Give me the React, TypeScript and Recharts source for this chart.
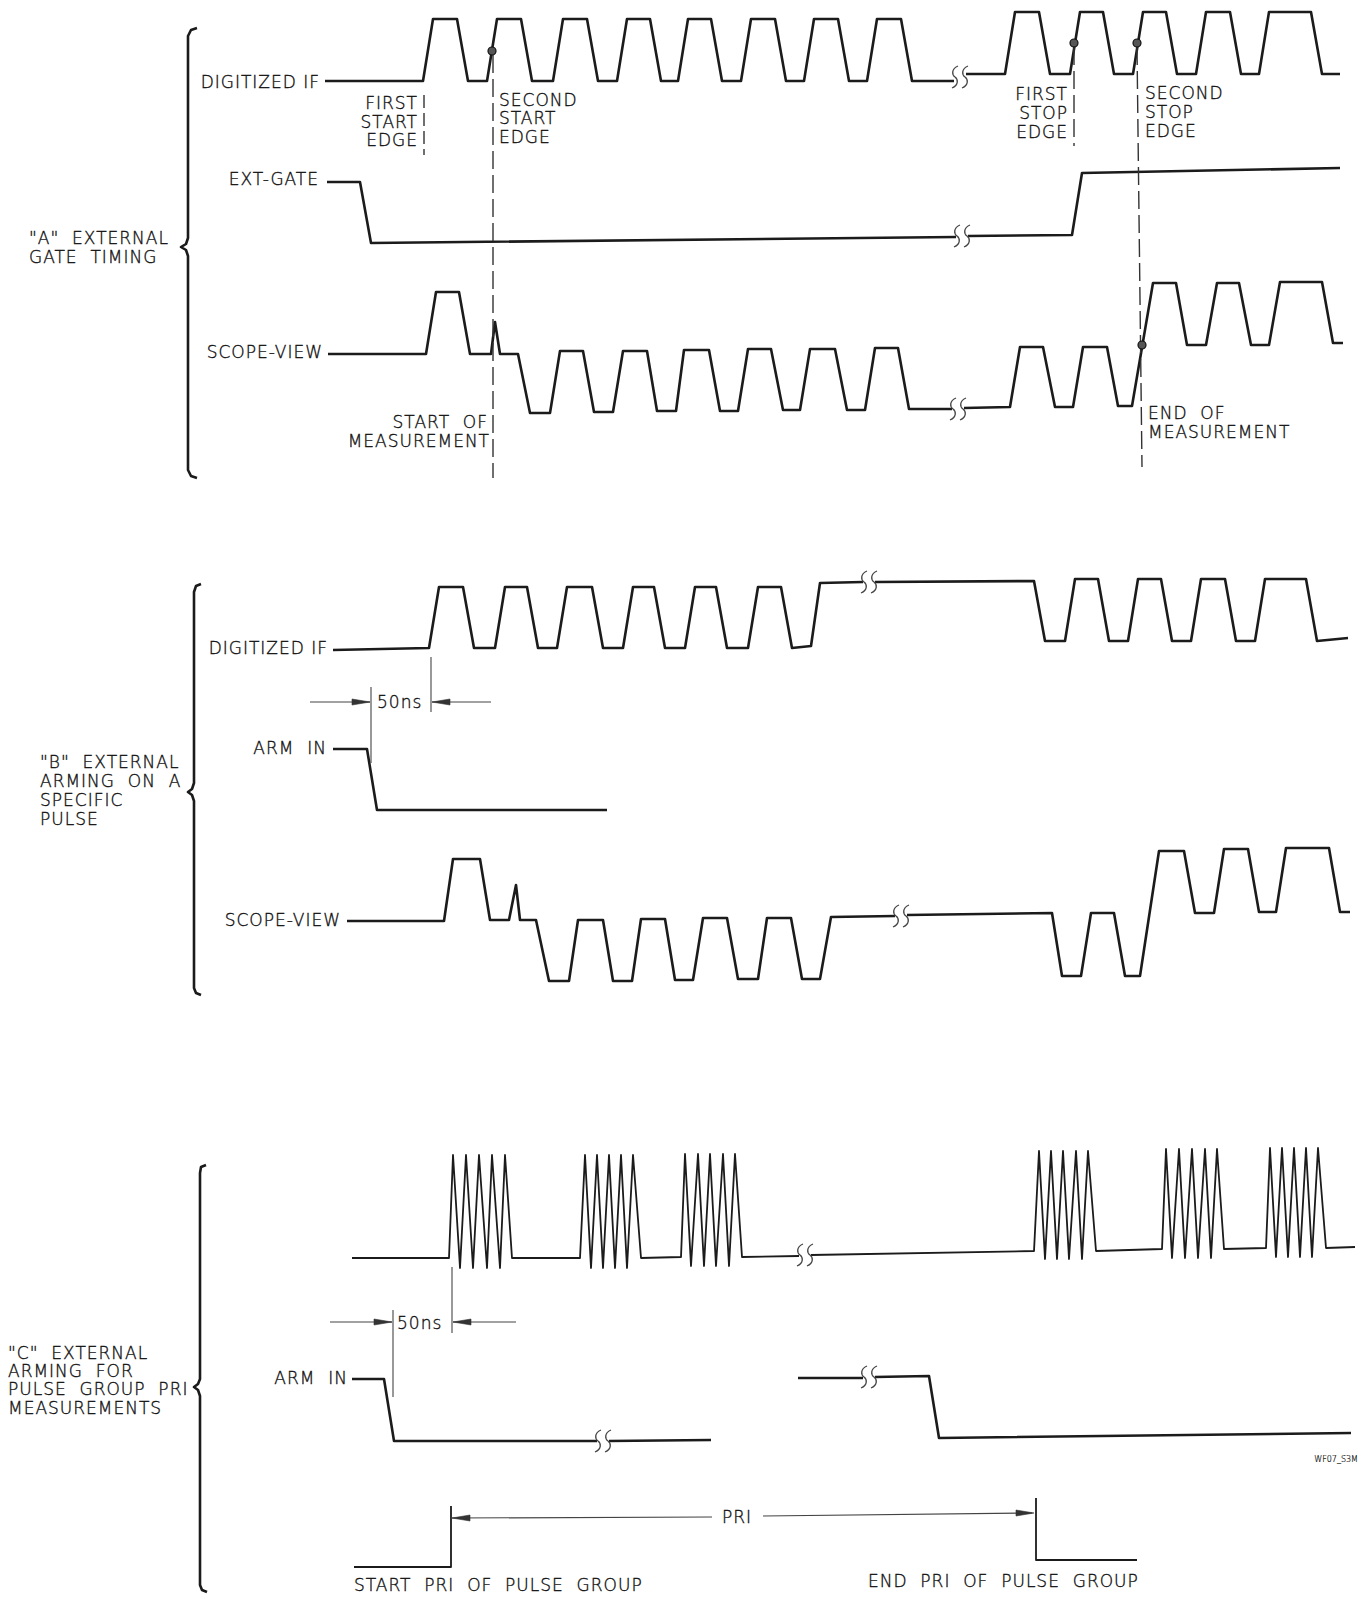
import React from 'react';
import { ComposedChart, Line, Scatter, XAxis, YAxis } from 'recharts';

const W = 1367;
const H = 1599;

type V = (number | null)[];
type Pt = { x: number; y: number | null };

// ---------------- Panel A : external gate timing ----------------
const aDigPulsesLeft = [[423, 468], [487, 532], [553, 598], [617, 661], [678, 722], [741, 786], [804, 849], [867, 912]];
const aDigPulsesRight = [[1005, 1050], [1070, 1114], [1133, 1177], [1196, 1241], [1259, 1322]];
const aDigLevelsLeft = [81, 19];
const aDigLevelsRight = [74, 12];

const aExtGate: V[] = [[327, 182], [360, 182], [371, 243], [956, 237], [957, null], [968, 236], [1072, 235], [1082, 173], [1340, 168]];

const aScope: V[] = [
  [328, 354], [426, 354], [436, 292], [459, 292], [470, 354], [491, 354], [495, 322], [500, 354], [518, 354],
  [530, 413], [550, 413], [560, 351], [583, 351], [594, 412], [613, 412], [623, 351], [647, 351], [657, 411],
  [676, 411], [684, 350], [709, 350], [720, 411], [738, 411], [748, 349], [771, 349], [783, 410], [800, 410],
  [810, 349], [835, 349], [847, 410], [865, 410], [875, 348], [898, 348], [909, 409], [952, 409], [953, null],
  [964, 408], [1010, 407], [1020, 347], [1043, 347], [1055, 407], [1073, 407], [1083, 347], [1107, 347],
  [1118, 406], [1132, 406], [1153, 283], [1176, 283], [1187, 345], [1206, 345], [1217, 283], [1239, 283],
  [1251, 345], [1269, 345], [1280, 282], [1322, 282], [1333, 343], [1343, 343],
];

const aMarkers: V[][] = [
  [[424, 95], [424, 155]],
  [[493, 55], [493, 478]],
  [[1074, 47], [1074, 146]],
  [[1137, 47], [1142, 467]],
];

const aEdgeDots = [
  { x: 492, y: 51 },
  { x: 1074, y: 43 },
  { x: 1137, y: 43 },
  { x: 1142, y: 345 },
];

// ---------------- Panel B : external arming on a specific pulse ----------------
const bDigPulsesLeft = [[429, 474], [495, 538], [557, 603], [623, 665], [685, 727], [748, 792]];
const bDigPulsesRight = [[1065, 1109], [1128, 1172], [1191, 1236], [1255, 1317]];
const bDigLevelsLeft = [648, 587];
const bDigLevelsRight = [641, 579];

const bArmIn: V[] = [[333, 749], [367, 749], [377, 810], [607, 810]];

const bScope: V[] = [
  [347, 921], [444, 921], [453, 859], [480, 859], [490, 920], [509, 920], [516, 885], [520, 920], [536, 920],
  [549, 981], [569, 981], [578, 920], [603, 920], [613, 981], [632, 981], [641, 919], [665, 919], [675, 980],
  [693, 980], [703, 918], [727, 918], [738, 979], [758, 979], [767, 918], [791, 918], [802, 979], [820, 979],
  [831, 917], [895, 916], [896, null], [907, 915], [1052, 913], [1062, 976], [1081, 976], [1091, 913],
  [1114, 913], [1125, 976], [1140, 976], [1159, 851], [1184, 851], [1195, 913], [1214, 913], [1224, 849],
  [1248, 849], [1259, 912], [1276, 912], [1286, 848], [1329, 848], [1340, 912], [1350, 912],
];

const b50nsLines: V[][] = [
  [[310, 702], [370, 702]],
  [[491, 702], [432, 702]],
  [[371, 687], [371, 763]],
  [[431, 657], [431, 712]],
];

// ---------------- Panel C : pulse group PRI ----------------
const cBursts = [
  { start: 449, end: 512, base: 1258, peak: 1155, valley: 1268, xs: [453, 460, 466, 473, 479, 487, 492, 500, 505] },
  { start: 580, end: 641, base: 1258, peak: 1155, valley: 1268, xs: [585, 591, 597, 603, 609, 615, 621, 627, 633] },
  { start: 681, end: 742, base: 1257, peak: 1154, valley: 1266, xs: [685, 691, 698, 704, 710, 716, 723, 729, 735] },
  { start: 1034, end: 1096, base: 1251, peak: 1151, valley: 1259, xs: [1039, 1045, 1051, 1057, 1063, 1069, 1076, 1082, 1088] },
  { start: 1162, end: 1224, base: 1249, peak: 1149, valley: 1258, xs: [1166, 1172, 1179, 1185, 1192, 1198, 1205, 1211, 1217] },
  { start: 1266, end: 1326, base: 1248, peak: 1148, valley: 1257, xs: [1270, 1276, 1282, 1288, 1294, 1300, 1306, 1312, 1318] },
];
const cPulseEnds: V[] = [[352, 1258], [799, 1256], [800, null], [811, 1255], [1355, 1247]];

const cArm1: V[] = [[352, 1379], [384, 1379], [394, 1441], [597, 1441], [598, null], [609, 1441], [711, 1440]];
const cArm2: V[] = [[798, 1378], [863, 1378], [864, null], [875, 1377], [929, 1376], [939, 1438], [1351, 1433]];

const c50nsLines: V[][] = [
  [[330, 1322], [392, 1322]],
  [[516, 1322], [453, 1322]],
  [[393, 1310], [393, 1397]],
  [[452, 1267], [452, 1333]],
];

const priStart: V[] = [[354, 1567], [451, 1567], [451, 1506]];
const priEnd: V[] = [[1036, 1498], [1036, 1560], [1137, 1560]];
const priArrowLines: V[][] = [
  [[451, 1518], [712, 1517]],
  [[763, 1516], [1032, 1513]],
];

const arrowHeads = [
  { x: 370, y: 702, dir: 1 },
  { x: 432, y: 702, dir: -1 },
  { x: 392, y: 1322, dir: 1 },
  { x: 453, y: 1322, dir: -1 },
  { x: 452, y: 1518, dir: -1 },
  { x: 1034, y: 1513, dir: 1 },
];

const breakMarks = [
  { x: 960, y: 77 },
  { x: 962, y: 236 },
  { x: 958, y: 409 },
  { x: 869, y: 582 },
  { x: 901, y: 916 },
  { x: 805, y: 1255 },
  { x: 603, y: 1441 },
  { x: 869, y: 1377 },
];

// ---------------- Braces ----------------
const braceA: V[] = [[197, 28], [191, 30], [188, 36], [188, 238], [186, 244], [181, 247], [186, 250], [188, 256], [188, 470], [191, 476], [197, 478]];
const braceB: V[] = [[201, 584], [196, 586], [194, 592], [194, 783], [192, 789], [188, 792], [192, 795], [194, 801], [194, 988], [196, 993], [201, 995]];
const braceC: V[] = [[206, 1165], [201, 1167], [200, 1173], [200, 1379], [198, 1384], [194, 1387], [198, 1390], [200, 1396], [200, 1585], [202, 1590], [207, 1592]];

// ---------------- Text ----------------
const labels = [
  { x: 320, y: 82, t: 'DIGITIZED IF', a: 'end' },
  { x: 319, y: 179, t: 'EXT-GATE', a: 'end' },
  { x: 323, y: 352, t: 'SCOPE-VIEW', a: 'end' },
  { x: 418, y: 103, t: 'FIRST', a: 'end' },
  { x: 418, y: 122, t: 'START', a: 'end' },
  { x: 418, y: 140, t: 'EDGE', a: 'end' },
  { x: 499, y: 100, t: 'SECOND', a: 'start' },
  { x: 499, y: 118, t: 'START', a: 'start' },
  { x: 499, y: 137, t: 'EDGE', a: 'start' },
  { x: 1068, y: 94, t: 'FIRST', a: 'end' },
  { x: 1068, y: 113, t: 'STOP', a: 'end' },
  { x: 1068, y: 132, t: 'EDGE', a: 'end' },
  { x: 1145, y: 93, t: 'SECOND', a: 'start' },
  { x: 1145, y: 112, t: 'STOP', a: 'start' },
  { x: 1145, y: 131, t: 'EDGE', a: 'start' },
  { x: 488, y: 422, t: 'START  OF', a: 'end' },
  { x: 490, y: 441, t: 'MEASUREMENT', a: 'end' },
  { x: 1148, y: 413, t: 'END  OF', a: 'start' },
  { x: 1148, y: 432, t: 'MEASUREMENT', a: 'start' },
  { x: 29, y: 238, t: '"A"  EXTERNAL', a: 'start' },
  { x: 29, y: 257, t: 'GATE  TIMING', a: 'start' },
  { x: 328, y: 648, t: 'DIGITIZED IF', a: 'end' },
  { x: 377, y: 702, t: '50ns', a: 'start' },
  { x: 327, y: 748, t: 'ARM  IN', a: 'end' },
  { x: 341, y: 920, t: 'SCOPE-VIEW', a: 'end' },
  { x: 40, y: 762, t: '"B"  EXTERNAL', a: 'start' },
  { x: 40, y: 781, t: 'ARMING  ON  A', a: 'start' },
  { x: 40, y: 800, t: 'SPECIFIC', a: 'start' },
  { x: 40, y: 819, t: 'PULSE', a: 'start' },
  { x: 8, y: 1353, t: '"C"  EXTERNAL', a: 'start' },
  { x: 8, y: 1371, t: 'ARMING  FOR', a: 'start' },
  { x: 8, y: 1389, t: 'PULSE  GROUP  PRI', a: 'start' },
  { x: 8, y: 1408, t: 'MEASUREMENTS', a: 'start' },
  { x: 397, y: 1323, t: '50ns', a: 'start' },
  { x: 348, y: 1378, t: 'ARM  IN', a: 'end' },
  { x: 737, y: 1517, t: 'PRI', a: 'middle' },
  { x: 354, y: 1585, t: 'START  PRI  OF  PULSE  GROUP', a: 'start' },
  { x: 868, y: 1581, t: 'END  PRI  OF  PULSE  GROUP', a: 'start' },
  { x: 1358, y: 1459, t: 'WF07_S3M', a: 'end', s: 8 },
];

// ---------------- builders ----------------
const toPts = (arr: V[]): Pt[] => arr.map(([x, y]) => ({ x: x as number, y }));
const trap = (pulses: number[][], lo: number, hi: number): V[] =>
  pulses.flatMap(([r, f]) => [[r, lo], [r + 10, hi], [f - 11, hi], [f, lo]]);
const burst = (b: (typeof cBursts)[number]): V[] => [
  [b.start, b.base],
  ...b.xs.map((x, i) => [x, i % 2 === 0 ? b.peak : b.valley]),
  [b.end, b.base],
];

const aDigIf: V[] = [
  [325, aDigLevelsLeft[0]],
  ...trap(aDigPulsesLeft, aDigLevelsLeft[0], aDigLevelsLeft[1]),
  [954, aDigLevelsLeft[0]], [955, null], [966, aDigLevelsRight[0]],
  ...trap(aDigPulsesRight, aDigLevelsRight[0], aDigLevelsRight[1]),
  [1340, aDigLevelsRight[0]],
];

const bDigIf: V[] = [
  [333, 650],
  ...trap(bDigPulsesLeft, bDigLevelsLeft[0], bDigLevelsLeft[1]),
  [811, 646], [820, 583], [863, 582], [864, null], [875, 582], [1034, 581], [1045, bDigLevelsRight[0]],
  ...trap(bDigPulsesRight, bDigLevelsRight[0], bDigLevelsRight[1]),
  [1348, 638],
];

const cPulses: V[] = [
  cPulseEnds[0],
  ...burst(cBursts[0]), ...burst(cBursts[1]), ...burst(cBursts[2]),
  cPulseEnds[1], cPulseEnds[2], cPulseEnds[3],
  ...burst(cBursts[3]), ...burst(cBursts[4]), ...burst(cBursts[5]),
  cPulseEnds[4],
];

type Stroke = { key: string; data: V[]; w: number; c: string; dash?: string };
const INK = '#1b1b1b';
const strokes: Stroke[] = [
  { key: 'aDig', data: aDigIf, w: 2.6, c: INK },
  { key: 'aExt', data: aExtGate, w: 2.6, c: INK },
  { key: 'aScope', data: aScope, w: 2.6, c: INK },
  ...aMarkers.map((m, i) => ({ key: 'aMark' + i, data: m, w: 1.4, c: '#333', dash: i === 0 ? '13 5' : '18 6' })),
  { key: 'bDig', data: bDigIf, w: 2.6, c: INK },
  { key: 'bArm', data: bArmIn, w: 2.6, c: INK },
  { key: 'bScope', data: bScope, w: 2.6, c: INK },
  ...b50nsLines.map((m, i) => ({ key: 'b50' + i, data: m, w: 1.1, c: '#444' })),
  { key: 'cPulse', data: cPulses, w: 1.8, c: INK },
  { key: 'cArm1', data: cArm1, w: 2.6, c: INK },
  { key: 'cArm2', data: cArm2, w: 2.6, c: INK },
  ...c50nsLines.map((m, i) => ({ key: 'c50' + i, data: m, w: 1.1, c: '#444' })),
  { key: 'priS', data: priStart, w: 1.8, c: INK },
  { key: 'priE', data: priEnd, w: 1.8, c: INK },
  ...priArrowLines.map((m, i) => ({ key: 'priA' + i, data: m, w: 1.2, c: '#444' })),
  { key: 'braceA', data: braceA, w: 2.6, c: INK },
  { key: 'braceB', data: braceB, w: 2.6, c: INK },
  { key: 'braceC', data: braceC, w: 2.6, c: INK },
];

const FONT = '"DejaVu Sans", sans-serif';

const TextShape = (p: any) => {
  const d = p.payload;
  const small = !!d.s;
  return (
    <text
      x={p.cx}
      y={p.cy}
      dy="0.36em"
      textAnchor={d.a}
      fontFamily={FONT}
      fontWeight={300}
      fontSize={small ? d.s : 17}
      letterSpacing={small ? 0 : 1}
      fill="#111"
      stroke="#111"
      strokeWidth={small ? 0.2 : 0.35}
      style={{ whiteSpace: 'pre' }}
    >
      {d.t}
    </text>
  );
};

const DotShape = (p: any) => <circle cx={p.cx} cy={p.cy} r={4} fill="#555" stroke="#111" strokeWidth={1.2} />;

const ArrowShape = (p: any) => {
  const dir = p.payload.dir;
  const x = p.cx;
  const y = p.cy;
  const pts = `${x},${y} ${x - dir * 18},${y - 3} ${x - dir * 18},${y + 3}`;
  return <polygon points={pts} fill="#333" stroke="#333" strokeWidth={0.6} />;
};

const BreakShape = (p: any) => {
  const x = p.cx;
  const y = p.cy;
  const sq = (sx: number) =>
    `M ${sx + 3},${y - 11} C ${sx - 4},${y - 8} ${sx - 3},${y - 2} ${sx},${y} C ${sx + 3},${y + 2} ${sx + 4},${y + 8} ${sx - 3},${y + 11}`;
  return (
    <g>
      <path d={sq(x - 5)} fill="none" stroke="#444" strokeWidth={1.3} />
      <path d={sq(x + 5)} fill="none" stroke="#444" strokeWidth={1.3} />
    </g>
  );
};

export default function App() {
  return (
    <div style={{ position: 'absolute', left: 0, top: 0, width: W, height: H, background: '#fff' }}>
      <ComposedChart width={W} height={H} margin={{ top: 0, right: 0, bottom: 0, left: 0 }}>
        <XAxis type="number" dataKey="x" domain={[0, W]} hide allowDataOverflow />
        <YAxis type="number" dataKey="y" domain={[0, H]} reversed hide allowDataOverflow width={0} />
        {strokes.map((s) => (
          <Line
            key={s.key}
            data={toPts(s.data)}
            dataKey="y"
            type="linear"
            stroke={s.c}
            strokeWidth={s.w}
            strokeDasharray={s.dash}
            strokeLinejoin="round"
            dot={false}
            activeDot={false}
            connectNulls={false}
            isAnimationActive={false}
          />
        ))}
        <Scatter data={breakMarks} shape={BreakShape} isAnimationActive={false} />
        <Scatter data={arrowHeads} shape={ArrowShape} isAnimationActive={false} />
        <Scatter data={aEdgeDots} shape={DotShape} isAnimationActive={false} />
        <Scatter data={labels} shape={TextShape} isAnimationActive={false} />
      </ComposedChart>
    </div>
  );
}
